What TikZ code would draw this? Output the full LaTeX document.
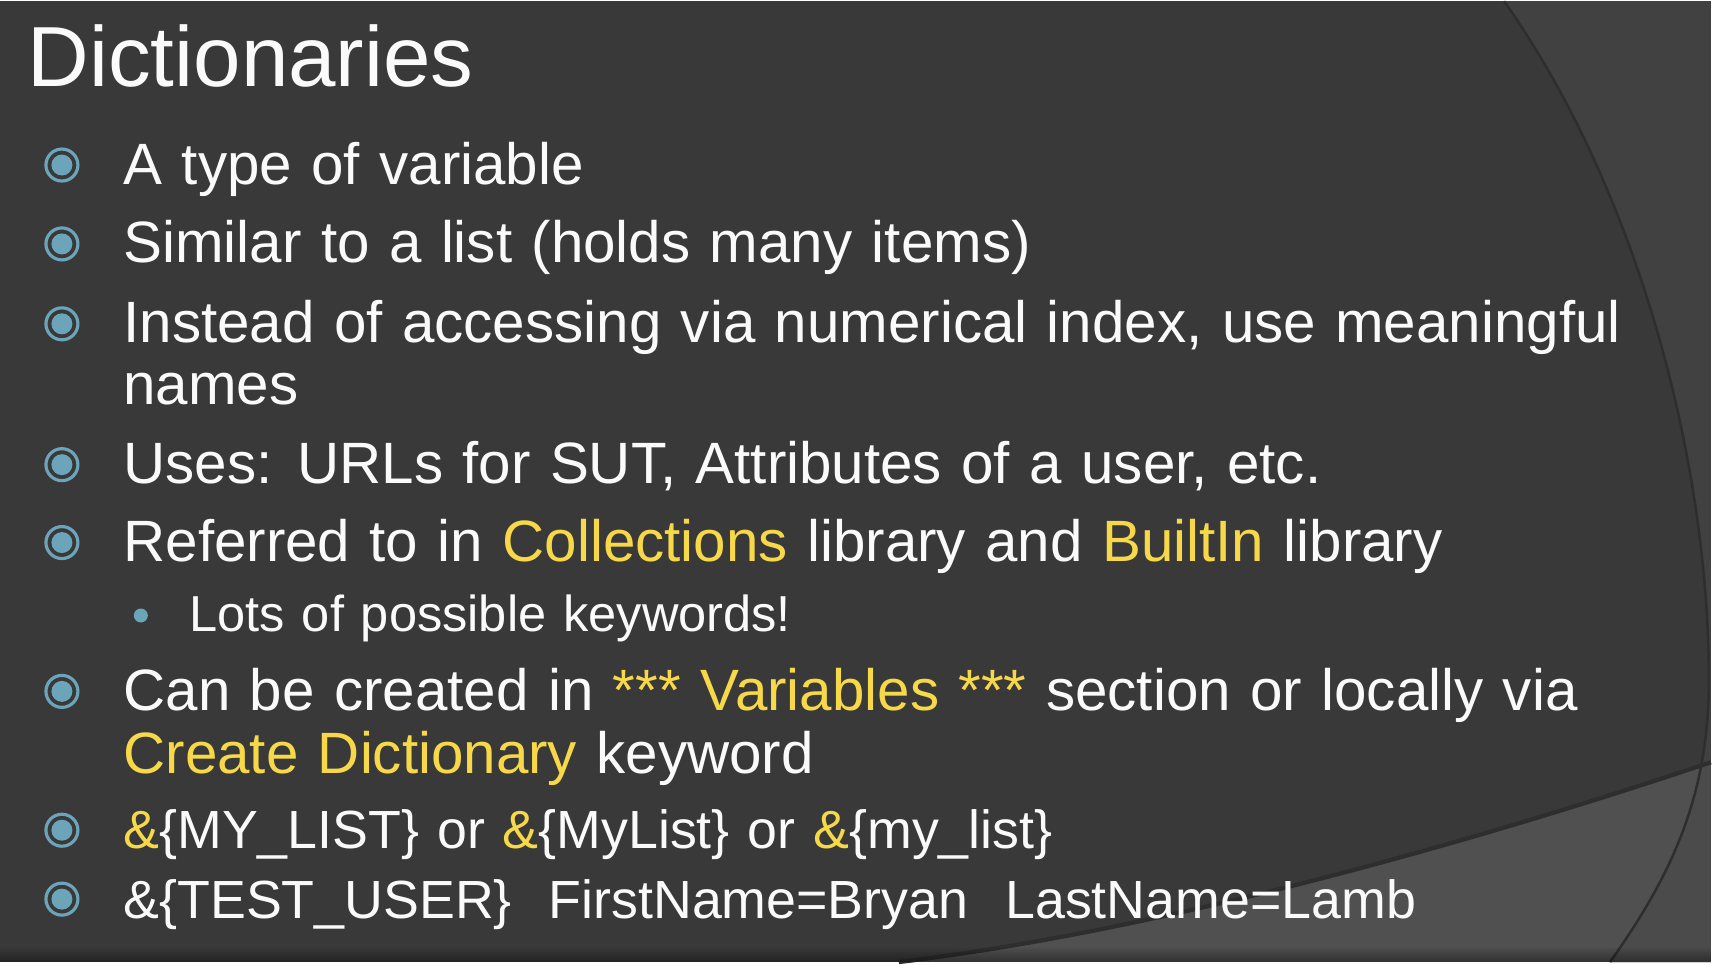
\documentclass[tikz,border=0pt]{standalone}
\usepackage{fontspec}
\setmainfont{Liberation Sans}[WordSpace=1.2]

\definecolor{slidebg}{RGB}{57,57,57}
\definecolor{sidebg}{RGB}{65,65,65}
\definecolor{footbg}{RGB}{80,80,80}
\definecolor{cornerbg}{RGB}{75,75,75}
\definecolor{edgeshade}{RGB}{46,46,46}
\definecolor{txtwhite}{RGB}{250,250,250}
\definecolor{kwyellow}{RGB}{246,216,72}
\definecolor{bulletblue}{RGB}{108,165,186}

\newcommand{\kw}[1]{\textcolor{kwyellow}{#1}}

\begin{document}
\begin{tikzpicture}[x=0.01cm,y=-0.01cm,
    title/.style={anchor=base west,inner sep=0pt,text=txtwhite,font=\fontsize{24.3}{29}\selectfont},
    bodyline/.style={anchor=base west,inner sep=0pt,text=txtwhite,font=\fontsize{16.6}{20}\selectfont},
    codeline/.style={anchor=base west,inner sep=0pt,text=txtwhite,font=\fontsize{15.3}{18}\selectfont},
    subline/.style={anchor=base west,inner sep=0pt,text=txtwhite,font=\fontsize{14.4}{17}\selectfont},
    ringbullet/.style={circle,draw=bulletblue,line width=0.9pt,minimum size=0.32cm,inner sep=0pt,
        path picture={\fill[bulletblue] (path picture bounding box.center) circle (0.105cm);}},
    dotbullet/.style={circle,fill=bulletblue,minimum size=0.14cm,inner sep=0pt}]

    % slide background
    \fill[slidebg] (0,0) rectangle (1713,962);
    \fill[sidebg] (1506,0) .. controls (1640,190) and (1711,460) .. (1711,680)
        .. controls (1711,800) and (1670,880) .. (1612,962) -- (1713,962) -- (1713,0) -- cycle;
    \begin{scope}
        \clip (900,962) .. controls (1150,932) and (1450,850) .. (1713,762) -- (1713,962) -- cycle;
        \fill[footbg] (0,700) rectangle (1713,962);
        \fill[cornerbg] (1506,0) .. controls (1640,190) and (1711,460) .. (1711,680)
            .. controls (1711,800) and (1670,880) .. (1612,962) -- (1713,962) -- (1713,0) -- cycle;
    \end{scope}
    \draw[edgeshade,line width=0.7pt] (1506,0) .. controls (1640,190) and (1711,460) .. (1711,680)
        .. controls (1711,800) and (1670,880) .. (1612,962);
    \draw[edgeshade,line width=1.2pt] (900,962) .. controls (1150,932) and (1450,850) .. (1713,762);
    \foreach \i in {0,...,6}
        \fill[black,opacity=0.05] (0,948+2*\i) rectangle (1713,962);

    % title
    \node[title] (head) at (27,85) {Dictionaries};

    % text lines
    \node[bodyline] (l1) at (123,183) {A type of variable};
    \node[bodyline] (l2) at (123,262) {Similar to a list (holds many items)};
    \node[bodyline] (l3) at (123,342) {Instead of accessing via numerical index, use meaningful};
    \node[bodyline] (l4) at (123,404) {names};
    \node[bodyline] (l5) at (123,483) {Uses: URLs for SUT, Attributes of a user, etc.};
    \node[bodyline] (l6) at (123,561) {Referred to in \kw{Collections} library and \kw{BuiltIn} library};
    \node[subline] (l7) at (189,631) {Lots of possible keywords!};
    \node[bodyline] (l8) at (123,710) {Can be created in \kw{*** Variables ***} section or locally via};
    \node[bodyline] (l9) at (123,773) {\kw{Create Dictionary} keyword};
    \node[codeline] (l10) at (123,848) {\kw{\&}\{MY\_LIST\} or \kw{\&}\{MyList\} or \kw{\&}\{my\_list\}};
    \node[codeline] (l11) at (123,918) {\&\{TEST\_USER\}\hspace{0.37cm}FirstName=Bryan\hspace{0.37cm}LastName=Lamb};

    % bullets
    \foreach \n/\y in {1/164,2/243,3/323,5/464,6/542,8/691,10/830,11/899}
        \node[ringbullet] (b\n) at (62,\y) {};
    \node[dotbullet] (s7) at (141,615) {};
\end{tikzpicture}
\end{document}
